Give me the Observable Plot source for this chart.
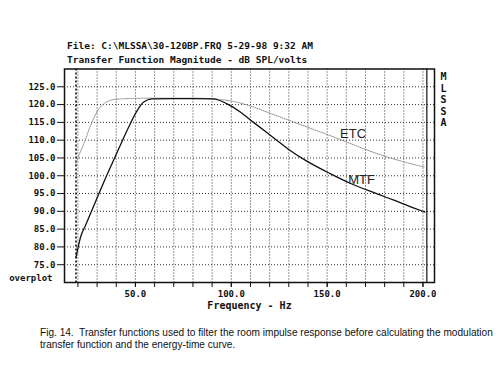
<!DOCTYPE html>
<html>
<head>
<meta charset="utf-8">
<script src="https://cdn.jsdelivr.net/npm/d3@7"></script>
<script src="https://cdn.jsdelivr.net/npm/@observablehq/plot@0.6"></script>
<style>
  html, body { margin: 0; padding: 0; background: #fff; }
  #wrap { width: 500px; height: 366px; overflow: hidden; }
  #title { font: bold 9.5px "DejaVu Sans Mono", monospace; color: #111; padding: 39px 0 0 67px; height: 66px; box-sizing: border-box; line-height: 14px; white-space: pre; }
  #caption { font: 10.1px "Liberation Sans", Arial, sans-serif; color: #111; padding: 9px 0 0 40px; line-height: 12px; white-space: nowrap; }
  svg { display: block; }
</style>
</head>
<body>
<div id="wrap">
  <div id="title">File: C:\MLSSA\30-120BP.FRQ 5-29-98 9:32 AM
Transfer Function Magnitude - dB SPL/volts</div>
  <div id="chart"></div>
  <div id="caption">Fig. 14.&nbsp; Transfer functions used to filter the room impulse response before calculating the modulation<br>transfer function and the energy-time curve.</div>
</div>
<script>
// MTF curve (solid)
const mtfFreq = [19, 21.4, 24, 28.3, 35.3, 41.3, 46.5, 50.9, 54.3, 58.7, 70, 80, 90.7, 97.8, 104.7, 111.6, 122, 130.7, 139.4, 151.6, 162, 174.1, 184.5, 195, 201];
const mtfDB   = [77, 82.8, 86.1, 91.6, 100.4, 107.6, 113.7, 118.3, 120.7, 121.6, 121.7, 121.7, 121.6, 120.2, 117.9, 115.0, 110.7, 107.1, 104.1, 100.6, 97.9, 95.3, 93.2, 91.0, 89.8];
// ETC curve (dotted)
const etcFreq = [19, 20.5, 23.1, 26.6, 30.9, 34, 37, 42.2, 60, 80, 90, 100, 110, 120, 130, 140, 150, 160, 170, 180, 190, 201];
const etcDB   = [103.4, 105.7, 109, 114.1, 118.8, 120.4, 121.2, 121.6, 121.8, 121.8, 121.6, 121.0, 119.6, 117.6, 115.6, 113.6, 111.6, 109.5, 107.4, 105.5, 103.9, 102.4];
// axes
const yTicks = [75, 80, 85, 90, 95, 100, 105, 110, 115, 120, 125];
const xLabelTicks = [50, 100, 150, 200];
const xMinorTicks = [20, 30, 40, 50, 60, 70, 80, 90, 100, 110, 120, 130, 140, 150, 160, 170, 180, 190, 200];
const markers = [19];
const rightMarker = [202];
const curveLabels = [
  {name: "ETC", f: 163.5, db: 111.8},
  {name: "MTF", f: 168, db: 98.8}
];
const sideLetters = ["M", "L", "S", "S", "A"];

const mtf = mtfFreq.map((f, i) => ({f, db: mtfDB[i]}));
const etc = etcFreq.map((f, i) => ({f, db: etcDB[i]}));

const mono = "DejaVu Sans Mono";
const chart = Plot.plot({
  width: 500,
  height: 252,
  marginLeft: 64,
  marginRight: 66,
  marginTop: 2.5,
  marginBottom: 36,
  style: {fontFamily: mono, fontWeight: "bold", fontSize: "9px", color: "#111", background: "#fff"},
  x: {domain: [13, 206]},
  y: {domain: [70, 130]},
  marks: [
    Plot.ruleX(xMinorTicks, {stroke: "#333", strokeDasharray: "1,2", strokeWidth: 1}),
    Plot.ruleY(yTicks, {stroke: "#333", strokeDasharray: "1,2", strokeWidth: 1}),
    Plot.ruleX(markers, {stroke: "#111", strokeDasharray: "2,2", strokeWidth: 1.6}),
    Plot.ruleX(rightMarker, {stroke: "#111", strokeWidth: 1.2}),
    Plot.axisY({ticks: yTicks, tickFormat: d => d.toFixed(1), tickSize: 7, tickPadding: 2, label: null, fontSize: 9, fontWeight: "bold"}),
    Plot.axisX({ticks: xMinorTicks, tickFormat: () => "", tickSize: 5, label: null}),
    Plot.axisX({ticks: xLabelTicks, tickFormat: d => d.toFixed(1), tickSize: 5, tickPadding: 3, label: null, fontSize: 9, fontWeight: "bold"}),
    Plot.line(etc, {x: "f", y: "db", stroke: "#888", strokeWidth: 1, strokeDasharray: "1,1.2", curve: "monotone-x"}),
    Plot.line(mtf, {x: "f", y: "db", stroke: "#111", strokeWidth: 1.3, curve: "monotone-x"}),
    Plot.text(curveLabels, {x: "f", y: "db", text: "name", fontFamily: "Liberation Sans", fontWeight: "normal", fontSize: 13, fill: "#222"}),
    Plot.text(["Frequency - Hz"], {frameAnchor: "bottom", dy: 26, fontSize: 10, fontWeight: "bold"}),
    Plot.text(["overplot"], {frameAnchor: "bottom-left", dx: -12, dy: -2, textAnchor: "end", fontSize: 9, fontWeight: "bold"}),
    Plot.text([sideLetters.join("\n")], {frameAnchor: "top-right", dx: 9, dy: 3, lineAnchor: "top", lineHeight: 1.15, textAnchor: "middle", fontSize: 10, fontWeight: "bold"}),
    Plot.frame({stroke: "#111", strokeWidth: 1.5})
  ]
});
document.getElementById("chart").appendChild(chart);
</script>
</body>
</html>
